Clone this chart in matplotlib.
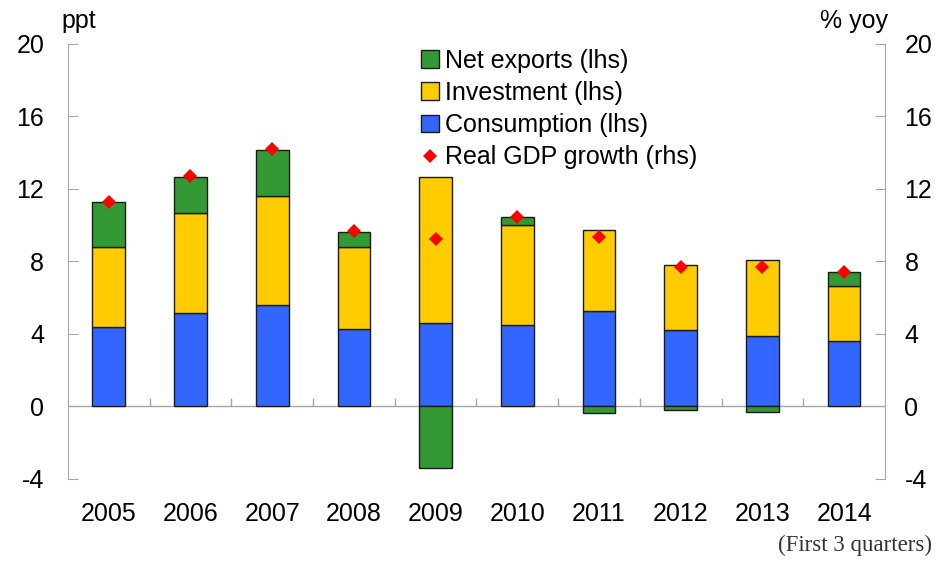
import numpy as np
from matplotlib import pyplot as plt

years = ['2005', '2006', '2007', '2008', '2009', '2010', '2011', '2012', '2013', '2014']
consumption = [4.40, 5.13, 5.59, 4.26, 4.58, 4.50, 5.26, 4.21, 3.90, 3.59]
investment = [4.40, 5.51, 6.02, 4.53, 8.07, 5.50, 4.46, 3.60, 4.18, 3.06]
net_exports = [2.50, 2.03, 2.55, 0.85, -3.43, 0.47, -0.39, -0.18, -0.33, 0.76]
gdp_growth = [11.3, 12.7, 14.2, 9.65, 9.21, 10.47, 9.32, 7.67, 7.67, 7.41]
y_ticks = [-4, 0, 4, 8, 12, 16, 20]

plt.rcParams['font.family'] = ['Liberation Sans', 'DejaVu Sans']
plt.rcParams['axes.unicode_minus'] = False

fig = plt.figure(figsize=(9.43, 5.62), dpi=100)
ax = fig.add_axes([0.072, 0.148, 0.8665, 0.774])

x = np.arange(len(years))
cons = np.array(consumption)
inv = np.array(investment)
net = np.array(net_exports)
# positive net exports go on top of the stack, negative ones hang below zero
net_bottom = np.where(net >= 0, cons + inv, 0)

w = 0.4
ax.bar(x, cons, w, color='#3366FF', edgecolor='#1a1a1a', linewidth=1, label='Consumption (lhs)', zorder=3)
ax.bar(x, inv, w, bottom=cons, color='#FFCC00', edgecolor='#1a1a1a', linewidth=1, label='Investment (lhs)', zorder=3)
ax.bar(x, net, w, bottom=net_bottom, color='#339933', edgecolor='#1a1a1a', linewidth=1, label='Net exports (lhs)', zorder=3)

ax2 = ax.twinx()
ax2.plot(x, gdp_growth, linestyle='none', marker='D', markersize=7, color='#FF0000',
         markeredgewidth=0, label='Real GDP growth (rhs)', zorder=4)

for a in (ax, ax2):
    a.set_xlim(-0.5, len(years) - 0.5)
    a.set_ylim(-4, 20)
    a.set_yticks(y_ticks)
    for s in ('top', 'bottom'):
        a.spines[s].set_visible(False)
    for s in ('left', 'right'):
        a.spines[s].set_color('#a6a6a6')
    a.tick_params(axis='y', direction='in', length=7, color='#a6a6a6', labelsize=18)

ax.spines['right'].set_visible(False)
ax2.spines['left'].set_visible(False)
ax.tick_params(axis='y', pad=17)
ax2.tick_params(axis='y', pad=14)

ax.set_xticks(x)
ax.set_xticklabels(years)
ax.tick_params(axis='x', length=0, labelsize=18, pad=17)

ax.axhline(0, color='#a6a6a6', linewidth=1, zorder=2)
ax.vlines(x[:-1] + 0.5, 0, 0.45, color='#a6a6a6', linewidth=1, zorder=2)

fig.text(0.065, 0.962, 'ppt', fontsize=18, ha='left', va='center')
fig.text(0.942, 0.962, '% yoy', fontsize=18, ha='right', va='center')
fig.text(0.988, 0.03, '(First 3 quarters)', fontsize=16.5, ha='right', va='center',
         family=['Liberation Serif', 'DejaVu Serif'], color='#333333')

h1, l1 = ax.get_legend_handles_labels()
h2, l2 = ax2.get_legend_handles_labels()
handles = [h1[2], h1[1], h1[0], h2[0]]
labels = [l1[2], l1[1], l1[0], l2[0]]
ax2.legend(handles, labels, loc='upper left', bbox_to_anchor=(0.42, 1.012), frameon=False,
           fontsize=18, handlelength=0.7, handleheight=0.7, handletextpad=0.25,
           labelspacing=0.33, borderaxespad=0)

fig.savefig('out.png', dpi=100)
